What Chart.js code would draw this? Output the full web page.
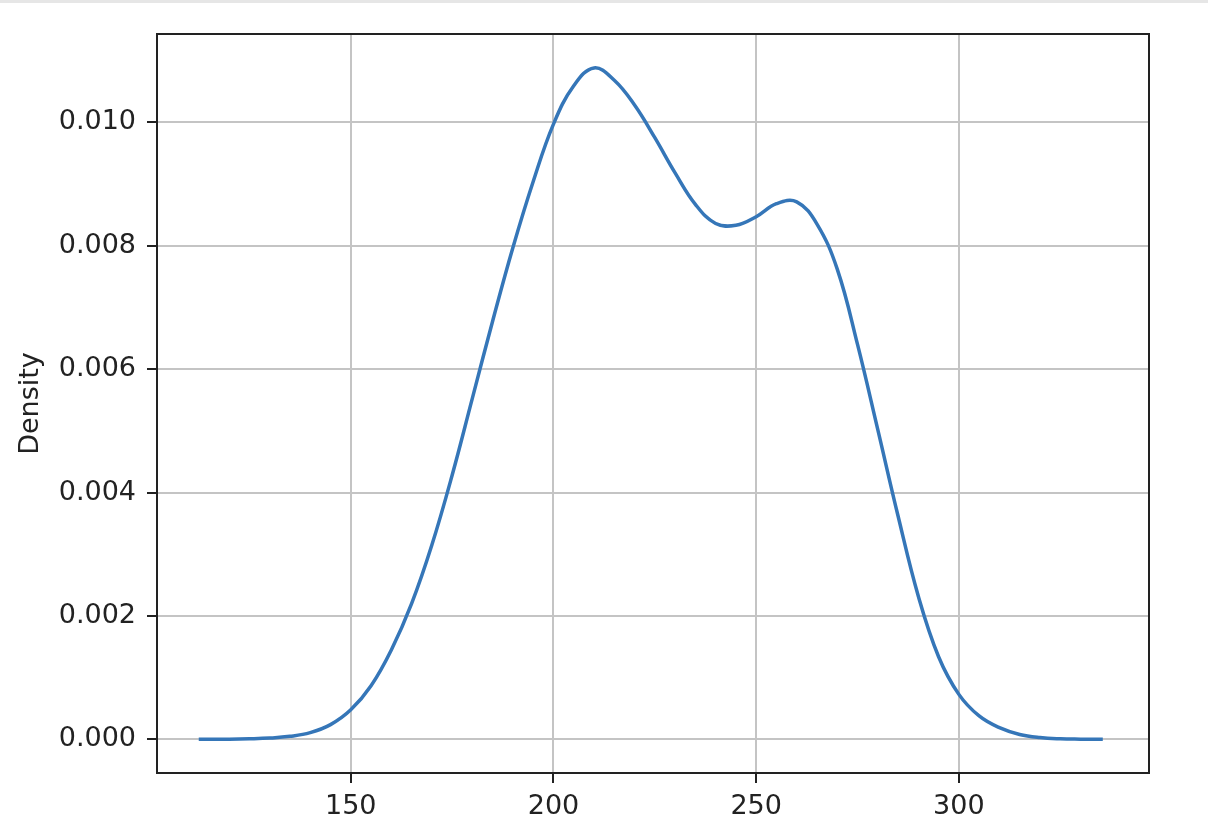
<!DOCTYPE html>
<html>
<head>
<meta charset="utf-8">
<script src="https://cdn.jsdelivr.net/npm/chart.js@4.4.1/dist/chart.umd.min.js"></script>
<style>
    html, body { margin: 0; padding: 0; background: #ffffff; }
    #wrap { position: relative; width: 1208px; height: 838px; }
    #topbar { position: absolute; left: 0; top: 0; width: 1208px; height: 3px; background: #e6e6e6; }
</style>
</head>
<body>
<div id="wrap">
    <canvas id="kdeChart" width="1208" height="838"></canvas>
    <div id="topbar"></div>
</div>
<script>
// --- Data ---
const densityX = [112.5, 120, 125, 130, 135, 140, 145, 150, 155, 160, 165, 170, 175, 180, 185, 190, 195, 200, 205, 210, 215, 220, 225, 230, 235, 240, 245, 250, 255, 260, 265, 270, 275, 280, 285, 290, 295, 300, 305, 310, 315, 320, 325, 330, 335.5];
const densityY = [0.000002, 0.000004, 0.00001, 0.000022, 0.00005, 0.00011, 0.00024, 0.00048, 0.00087, 0.00145, 0.0022, 0.00315, 0.00428, 0.00553, 0.00678, 0.00797, 0.00904, 0.00997, 0.01059, 0.01088, 0.01068, 0.01028, 0.00975, 0.00918, 0.00867, 0.00836, 0.00833, 0.00847, 0.00868, 0.00871, 0.00835, 0.00762, 0.0064, 0.00502, 0.00362, 0.00232, 0.00134, 0.00073, 0.00038, 0.00019, 0.00008, 0.00003, 0.00001, 0.000004, 0.000001];
const xTicks = [150, 200, 250, 300];
const yTicks = [0, 0.002, 0.004, 0.006, 0.008, 0.010];
const yLabel = 'Density';

// --- Style ---
const ink = '#222222';
const gridGray = '#c4c4c4';
const lineBlue = '#3576b8';
const fontFamily = '"DejaVu Sans", sans-serif';

// draws the top and right spines so the axes form a closed box
const frameBox = {
    id: 'frameBox',
    afterDraw(chart) {
        const { ctx, chartArea } = chart;
        ctx.save();
        ctx.strokeStyle = ink;
        ctx.lineWidth = 2;
        ctx.strokeRect(chartArea.left, chartArea.top, chartArea.right - chartArea.left, chartArea.bottom - chartArea.top);
        ctx.restore();
    }
};

const points = densityX.map((x, i) => ({ x: x, y: densityY[i] }));

new Chart(document.getElementById('kdeChart').getContext('2d'), {
    type: 'line',
    data: {
        datasets: [{
            data: points,
            borderColor: lineBlue,
            borderWidth: 3.5,
            pointRadius: 0,
            fill: false,
            tension: 0.4
        }]
    },
    options: {
        responsive: false,
        animation: false,
        layout: { padding: { top: 34, right: 59, bottom: 0, left: 0 } },
        plugins: { legend: { display: false }, tooltip: { enabled: false } },
        scales: {
            x: {
                type: 'linear',
                min: 102.2,
                max: 346.9,
                afterBuildTicks: (scale) => { scale.ticks = xTicks.map((v) => ({ value: v })); },
                afterFit: (scale) => { scale.height = 65; },
                grid: { color: gridGray, lineWidth: 2, tickLength: 10, tickColor: ink, tickWidth: 2 },
                border: { display: true, color: ink, width: 2 },
                ticks: {
                    color: ink,
                    padding: 8,
                    maxRotation: 0,
                    font: { family: fontFamily, size: 27 },
                    callback: (v) => String(v)
                }
            },
            y: {
                type: 'linear',
                min: -0.000544,
                max: 0.01143,
                afterBuildTicks: (scale) => { scale.ticks = yTicks.map((v) => ({ value: v })); },
                afterFit: (scale) => { scale.width = 157; },
                grid: { color: gridGray, lineWidth: 2, tickLength: 10, tickColor: ink, tickWidth: 2 },
                border: { display: true, color: ink, width: 2 },
                ticks: {
                    color: ink,
                    padding: 11,
                    font: { family: fontFamily, size: 27 },
                    callback: (v) => v.toFixed(3)
                },
                title: {
                    display: true,
                    text: yLabel,
                    color: ink,
                    padding: { top: 15, bottom: 0 },
                    font: { family: fontFamily, size: 27 }
                }
            }
        }
    },
    plugins: [frameBox]
});
</script>
</body>
</html>
